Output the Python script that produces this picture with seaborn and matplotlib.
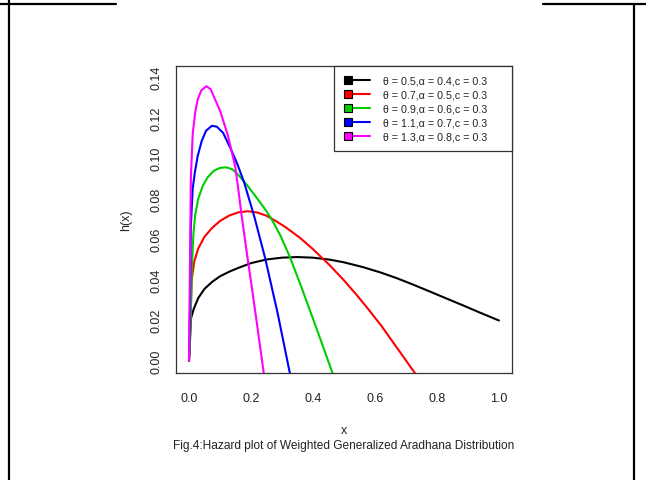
import numpy as np
import pandas as pd
import matplotlib
matplotlib.use("Agg")
import matplotlib.pyplot as plt
from matplotlib.lines import Line2D
from matplotlib.legend_handler import HandlerLine2D
import seaborn as sns


# values
x_black = [0, 0.002, 0.0065, 0.015, 0.03, 0.05, 0.075, 0.1, 0.13, 0.16, 0.2, 0.25, 0.3, 0.35,
           0.4, 0.455, 0.5, 0.562, 0.62, 0.67, 0.72, 0.777, 0.83, 0.885, 0.94, 1.0]
y_black = [0, 0.009, 0.021, 0.0255, 0.031, 0.0355, 0.039, 0.0417, 0.044, 0.0459, 0.0482, 0.050,
           0.0509, 0.0512, 0.0509, 0.0499, 0.0486, 0.0462, 0.0435, 0.0408, 0.0378, 0.0342,
           0.0308, 0.0273, 0.0237, 0.0199]

x_red = [0, 0.003, 0.0087, 0.017, 0.03, 0.05, 0.074, 0.1, 0.13, 0.16, 0.19, 0.22, 0.25, 0.28,
         0.313, 0.358, 0.4, 0.455, 0.5, 0.541, 0.58, 0.621, 0.66, 0.7, 0.73, 0.74]
y_red = [0, 0.009, 0.040, 0.049, 0.0555, 0.0612, 0.0655, 0.069, 0.0717, 0.0733, 0.0738, 0.0732,
         0.0716, 0.069, 0.0658, 0.0607, 0.0551, 0.047, 0.0397, 0.0325, 0.0252, 0.0172, 0.0088,
         0.0002, -0.0063, -0.0085]

x_green = [0, 0.004, 0.009, 0.014, 0.02, 0.03, 0.045, 0.06, 0.08, 0.1, 0.12, 0.14, 0.16, 0.19,
           0.222, 0.245, 0.265, 0.295, 0.324, 0.36, 0.399, 0.43, 0.465]
y_green = [0, 0.012, 0.045, 0.062, 0.072, 0.080, 0.0865, 0.0905, 0.0938, 0.0952, 0.0955, 0.0945,
           0.0916, 0.0862, 0.0797, 0.0749, 0.0703, 0.0618, 0.0518, 0.0375, 0.0212, 0.0081, -0.0069]

x_blue = [0, 0.003, 0.006, 0.012, 0.019, 0.028, 0.041, 0.055, 0.074, 0.09, 0.11, 0.135, 0.155,
          0.178, 0.211, 0.246, 0.286, 0.326]
y_blue = [0, 0.025, 0.0665, 0.085, 0.093, 0.101, 0.1085, 0.1135, 0.116, 0.1155, 0.1125, 0.1045,
          0.0975, 0.088, 0.071, 0.0505, 0.0235, -0.0065]

x_mag = [0, 0.002, 0.006, 0.012, 0.02, 0.028, 0.04, 0.056, 0.07, 0.084, 0.1, 0.125, 0.149,
         0.16, 0.17, 0.185, 0.203, 0.22, 0.238, 0.242]
y_mag = [0, 0.03, 0.09, 0.112, 0.1225, 0.129, 0.1335, 0.1355, 0.134, 0.129, 0.1235, 0.1115,
         0.096, 0.0835, 0.0715, 0.055, 0.036, 0.0175, -0.0025, -0.007]

labels = ["\u03b8 = 0.5,\u03b1 = 0.4,c = 0.3",
          "\u03b8 = 0.7,\u03b1 = 0.5,c = 0.3",
          "\u03b8 = 0.9,\u03b1 = 0.6,c = 0.3",
          "\u03b8 = 1.1,\u03b1 = 0.7,c = 0.3",
          "\u03b8 = 1.3,\u03b1 = 0.8,c = 0.3"]
colors = ["#000000", "#FF0000", "#00CD00", "#0000FF", "#FF00FF"]

xs = [x_black, x_red, x_green, x_blue, x_mag]
ys = [y_black, y_red, y_green, y_blue, y_mag]

df = pd.concat([pd.DataFrame({"x": a, "h": b, "curve": lab})
                for a, b, lab in zip(xs, ys, labels)], ignore_index=True)


sns.set_style("white")
plt.rcParams["font.family"] = ["Liberation Sans", "DejaVu Sans"]

fig = plt.figure(figsize=(6.46, 4.81), dpi=100)
ax = fig.add_axes([0.2724, 0.2225, 0.5201, 0.6383])

sns.lineplot(data=df, x="x", y="h", hue="curve", palette=colors, estimator=None,
             sort=False, linewidth=1.5, legend=False, ax=ax)

ax.set_xlim(-0.042, 1.042)
ax.set_ylim(-0.006, 0.1455)
ax.set_xticks([0, 0.2, 0.4, 0.6, 0.8, 1.0])
ax.set_xticklabels(["0.0", "0.2", "0.4", "0.6", "0.8", "1.0"])
ax.set_yticks([0, 0.02, 0.04, 0.06, 0.08, 0.10, 0.12, 0.14])
ax.set_yticklabels(["0.00", "0.02", "0.04", "0.06", "0.08", "0.10", "0.12", "0.14"],
                   rotation=90, va="center")
ax.tick_params(axis="both", direction="out", length=5, width=0.8, color="black",
               labelsize=9, labelcolor="#222222")
ax.tick_params(axis="x", pad=9)
ax.tick_params(axis="y", pad=5)
ax.set_xlabel("")
ax.set_ylabel("")
for s in ax.spines.values():
    s.set_color("#333333")
    s.set_linewidth(0.9)


# R style legend: filled square at the left end of the line
class LeftMarker(HandlerLine2D):
    def create_artists(self, legend, orig_handle, xdescent, ydescent, width, height,
                       fontsize, trans):
        yc = (height - ydescent) / 2
        line = Line2D([-xdescent + 3, -xdescent + width], [yc, yc])
        self.update_prop(line, orig_handle, legend)
        line.set_markevery([0])
        line.set_transform(trans)
        return [line]


handles = [Line2D([0], [0], color=c, lw=1.5, marker="s", markersize=6,
                  markerfacecolor=c, markeredgecolor="black", markeredgewidth=0.8)
           for c in colors]
leg = ax.legend(handles, labels, loc="upper left", bbox_to_anchor=(0.47, 0, 0.53, 1.0),
                mode="expand", borderaxespad=0, fontsize=7.7, labelspacing=0.37,
                handlelength=2.44, handletextpad=1.22, borderpad=0.92, fancybox=False,
                framealpha=1, edgecolor="#333333",
                handler_map={Line2D: LeftMarker()})
leg.get_frame().set_linewidth(0.9)
for t in leg.get_texts():
    t.set_color("#222222")

fig.text(0.5325, 0.104, "x", ha="center", va="center", fontsize=9, color="#222222")
fig.text(0.5325, 0.0735, "Fig.4:Hazard plot of Weighted Generalized Aradhana Distribution",
         ha="center", va="center", fontsize=8.6, color="#222222")
fig.text(0.195, 0.5416, "h(x)", ha="center", va="center", rotation=90, fontsize=9,
         color="#222222")

# page border pieces around the figure
W, H = 646.0, 481.0
for (x0, y0, x1, y1) in [(0, 5, 116, 5), (9, 0, 9, 481), (543, 5, 646, 5), (634, 5, 634, 481)]:
    fig.add_artist(Line2D([x0 / W, x1 / W], [1 - y0 / H, 1 - y1 / H], color="black",
                          lw=1.6, transform=fig.transFigure))

fig.savefig("out.png", dpi=100)
